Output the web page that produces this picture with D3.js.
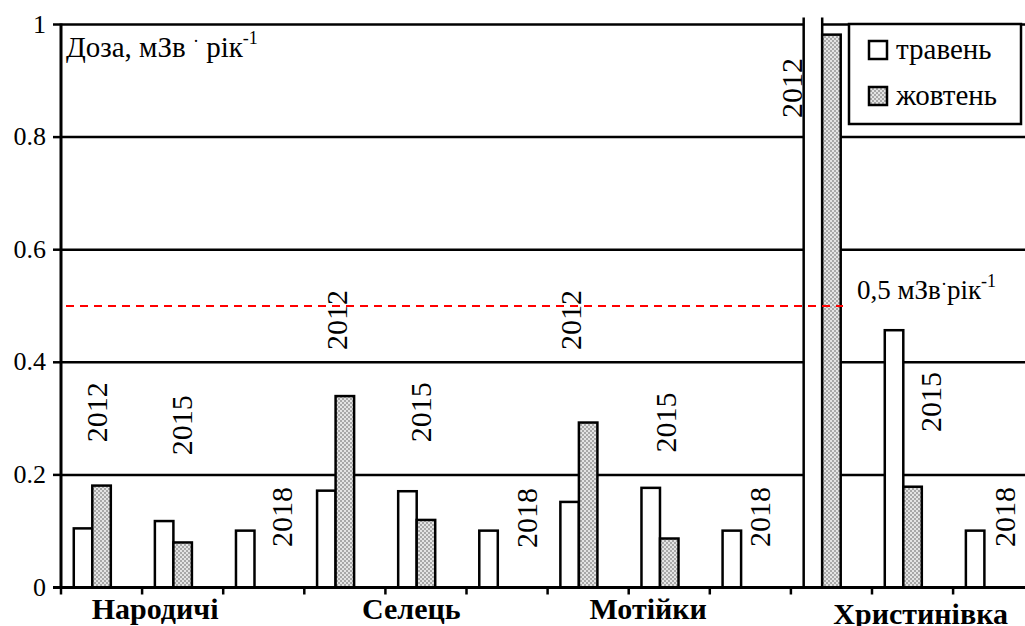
<!DOCTYPE html>
<html>
<head>
<meta charset="utf-8">
<script src="https://cdn.jsdelivr.net/npm/d3@7"></script>
<style>
  body { margin: 0; background: #fff; }
  svg { display: block; }
</style>
</head>
<body>
<svg id="chart" width="1025" height="626"></svg>
<script>
// ---- data ----
const places = ["Народичі", "Селець", "Мотійки", "Христинівка"];
const years = ["2012", "2015", "2018"];
const categories = places.flatMap(p => years.map(y => p + " " + y));
const series = ["травень", "жовтень"];
const mayValues = [0.105, 0.118, 0.101, 0.172, 0.171, 0.101, 0.152, 0.177, 0.101, 1.5, 0.457, 0.101];
const octValues = [0.181, 0.080, null, 0.340, 0.120, null, 0.293, 0.087, null, 0.982, 0.179, null];
const yTicks = [0, 0.2, 0.4, 0.6, 0.8, 1];
const yTickLabels = ["0", "0.2", "0.4", "0.6", "0.8", "1"];
const limitValue = 0.5;

// year label annotations: [category index, fraction across band, value at text start]
const yearLabelAnchors = [
  [0, 0.44, 0.258], [1, 0.49, 0.235], [2, 0.73, 0.072],
  [3, 0.40, 0.422], [4, 0.44, 0.258], [5, 0.74, 0.070],
  [6, 0.29, 0.422], [7, 0.46, 0.240], [8, 0.62, 0.072],
  [9, 0.01, 0.834], [10, 0.73, 0.276], [11, 0.64, 0.072]
];

// ---- font detection ----
function pickFont(cands) {
  const c = document.createElement("canvas").getContext("2d");
  const s = "Доза 2012 mmmWWiil0.8";
  const base = ["monospace", "sans-serif"].map(b => { c.font = "40px " + b; return c.measureText(s).width; });
  for (const f of cands) {
    const ok = ["monospace", "sans-serif"].every((b, i) => {
      c.font = `40px "${f}", ${b}`; return Math.abs(c.measureText(s).width - base[i]) > 0.5;
    });
    if (ok) return `"${f}", serif`;
  }
  return "serif";
}
const FONT = pickFont(["Liberation Serif", "Times New Roman", "Tinos", "DejaVu Serif", "Noto Serif", "FreeSerif", "Nimbus Roman", "Nimbus Roman No9 L"]);

// ---- layout ----
const svg = d3.select("#chart").attr("font-family", FONT).style("font-family", FONT);
const left = 61, bandW = 81.1;
const x = d3.scaleBand().domain(categories).range([left, left + bandW * categories.length]).padding(0);
const sub = d3.scaleBand().domain([...series, "_"]).range([0, x.bandwidth()]).paddingOuter(0.69).paddingInner(0);
const y = d3.scaleLinear().domain([0, 1]).range([587.5, 24.5]);

const defs = svg.append("defs");
const pat = defs.append("pattern").attr("id", "dots").attr("patternUnits", "userSpaceOnUse")
  .attr("width", 4).attr("height", 4);
pat.append("rect").attr("width", 4).attr("height", 4).attr("fill", "#e4e4e4");
pat.append("rect").attr("x", 0).attr("y", 0).attr("width", 2).attr("height", 2).attr("fill", "#a8a8a8");
pat.append("rect").attr("x", 2).attr("y", 2).attr("width", 2).attr("height", 2).attr("fill", "#a8a8a8");

defs.append("clipPath").attr("id", "plotclip").append("rect")
  .attr("x", 0).attr("y", y(1) - 7).attr("width", 1025).attr("height", y(0) - y(1) + 7);

// gridlines
svg.append("g").selectAll("line").data(yTicks.filter(d => d > 0)).join("line")
  .attr("x1", left).attr("x2", 1025).attr("y1", d => y(d)).attr("y2", d => y(d))
  .attr("stroke", "#000").attr("stroke-width", 2.5);

// y axis
svg.append("line").attr("x1", left).attr("x2", left).attr("y1", y(1) - 1).attr("y2", y(0) + 1)
  .attr("stroke", "#000").attr("stroke-width", 3);
svg.append("g").selectAll("line").data(yTicks).join("line")
  .attr("x1", left - 8).attr("x2", left).attr("y1", d => y(d)).attr("y2", d => y(d))
  .attr("stroke", "#000").attr("stroke-width", 2.5);
svg.append("g").selectAll("text").data(yTicks).join("text")
  .attr("x", 46).attr("y", d => y(d) + 8).attr("text-anchor", "end")
  .attr("font-size", 26).text((d, i) => yTickLabels[i]);

// bars
const bars = svg.append("g").attr("clip-path", "url(#plotclip)");
categories.forEach((c, i) => {
  [[mayValues[i], "#fff", "травень"], [octValues[i], "url(#dots)", "жовтень"]].forEach(([v, fill, s]) => {
    if (v == null) return;
    bars.append("rect")
      .attr("x", x(c) + sub(s)).attr("width", sub.bandwidth())
      .attr("y", y(v)).attr("height", y(0) - y(v))
      .attr("fill", fill).attr("stroke", "#000").attr("stroke-width", 2.5);
  });
});

// x axis
svg.append("line").attr("x1", left - 8).attr("x2", 1025).attr("y1", y(0)).attr("y2", y(0))
  .attr("stroke", "#000").attr("stroke-width", 3);
svg.append("g").selectAll("line").data(categories).join("line")
  .attr("x1", d => x(d)).attr("x2", d => x(d)).attr("y1", y(0)).attr("y2", y(0) + 7)
  .attr("stroke", "#000").attr("stroke-width", 2.5);

// year labels
svg.append("g").selectAll("text").data(yearLabelAnchors).join("text")
  .attr("transform", d => `translate(${x(categories[d[0]]) + d[1] * x.bandwidth() + 10},${y(d[2])}) rotate(-90)`)
  .attr("font-size", 30).text(d => years[d[0] % 3]);

// place labels
const placeCenters = [1.16, 4.32, 7.24, 10.6];
const placeDy = [31, 31, 31, 36];
svg.append("g").selectAll("text").data(places).join("text")
  .attr("x", (d, i) => left + placeCenters[i] * x.bandwidth())
  .attr("y", (d, i) => y(0) + placeDy[i])
  .attr("text-anchor", "middle").attr("font-size", 30).attr("font-weight", "bold").text(d => d);

// limit line
svg.append("line").attr("x1", left + 5).attr("x2", x(categories[10]) - 29)
  .attr("y1", y(limitValue)).attr("y2", y(limitValue))
  .attr("stroke", "#ff0000").attr("stroke-width", 2).attr("stroke-dasharray", "8,6");

const lt = svg.append("text").attr("x", 857).attr("y", y(limitValue) - 7).attr("font-size", 27);
lt.append("tspan").text(String(limitValue).replace(".", ",") + " мЗв");
lt.append("tspan").attr("dy", -9).attr("font-size", 18).text("·");
lt.append("tspan").attr("dy", 9).text("рік");
lt.append("tspan").attr("dy", -12).attr("font-size", 18).text("-1");

// title
const tt = svg.append("text").attr("x", 66).attr("y", 57).attr("font-size", 29);
tt.append("tspan").text("Доза, мЗв ");
tt.append("tspan").attr("dy", -10).attr("font-size", 18).text("·");
tt.append("tspan").attr("dy", 10).text(" рік");
tt.append("tspan").attr("dy", -13).attr("font-size", 18).text("-1");

// legend
const lg = svg.append("g");
lg.append("rect").attr("x", 849).attr("y", 24).attr("width", 172).attr("height", 100)
  .attr("fill", "#fff").attr("stroke", "#000").attr("stroke-width", 2.5);
series.forEach((s, i) => {
  lg.append("rect").attr("x", 869).attr("y", 41 + i * 46).attr("width", 18).attr("height", 18)
    .attr("fill", i === 0 ? "#fff" : "url(#dots)").attr("stroke", "#000").attr("stroke-width", 2.5);
  lg.append("text").attr("x", 896).attr("y", 59 + i * 46).attr("font-size", 29).text(s);
});
</script>
</body>
</html>
